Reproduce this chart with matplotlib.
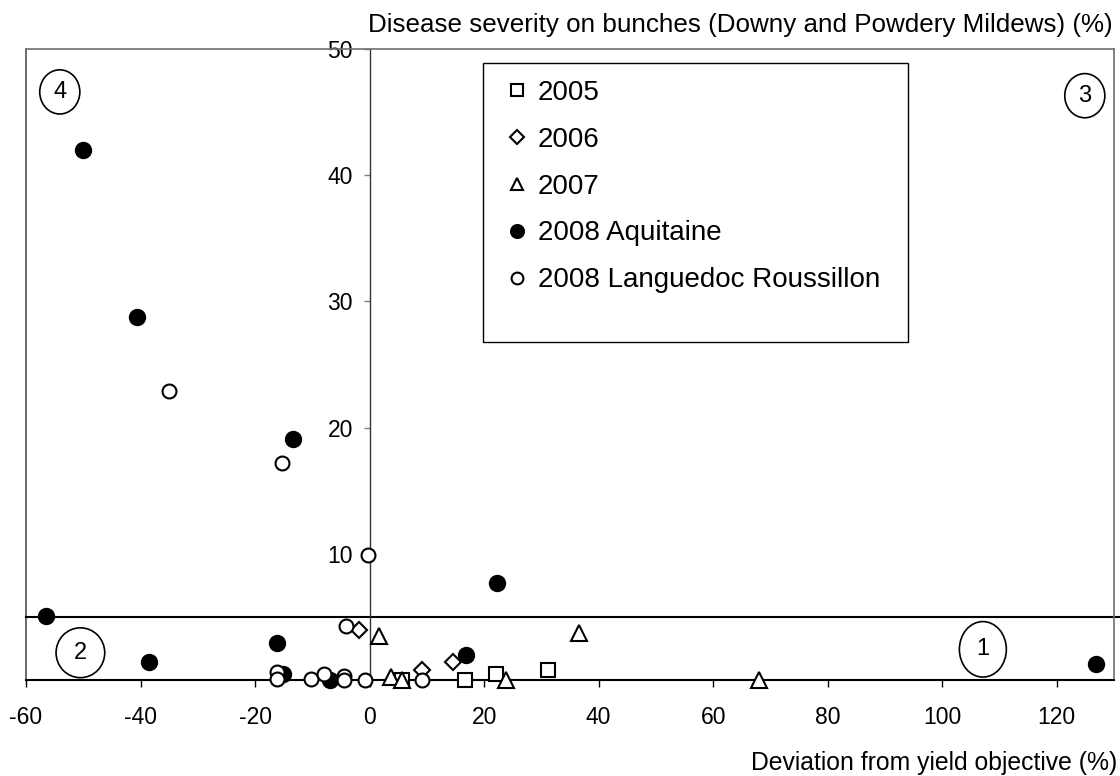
import matplotlib.pyplot as plt
from matplotlib.patches import Ellipse, Rectangle

plt.rcParams['font.family'] = ['Liberation Sans', 'DejaVu Sans']
plt.rcParams['axes.unicode_minus'] = False

# data: deviation from yield objective (%), disease severity (%)
x2005 = [5.6, 16.6, 22.0, 31.1]
y2005 = [0.0, 0.0, 0.5, 0.8]

x2006 = [-1.9, 9.2, 14.6]
y2006 = [4.0, 0.8, 1.45]

x2007 = [1.7, 3.7, 5.6, 23.8, 36.6, 68.0]
y2007 = [3.5, 0.2, 0.0, 0.0, 3.75, 0.0]

x_aq = [-56.5, -50.1, -40.6, -38.5, -16.1, -15.2, -13.4, -6.9, 16.9, 22.3, 126.8]
y_aq = [5.1, 42.0, 28.8, 1.4, 2.95, 0.47, 19.1, 0.0, 2.0, 7.7, 1.3]

x_lr = [-35.1, -15.3, -0.2, -4.2, -16.1, -16.1, -10.3, -8.0, -4.5, -4.4, -0.75, 9.2]
y_lr = [22.9, 17.2, 9.9, 4.3, 0.66, 0.08, 0.08, 0.48, 0.3, 0.0, 0.0, 0.0]

threshold = 5
zone_labels = ['1', '2', '3', '4']
zone_x = [107.1, -50.5, 124.9, -54.1]
zone_y = [2.43, 2.16, 46.3, 46.6]
zone_w = [8.2, 8.5, 7.0, 7.0]
zone_h = [4.4, 3.95, 3.5, 3.5]

fig = plt.figure(figsize=(11.2, 7.76), dpi=100)
ax = fig.add_axes([26 / 1120, 96 / 776, 1088 / 1120, 631 / 776])

ms = 10
ax.plot(x2005, y2005, 's', ms=ms, mfc='white', mec='black', mew=1.5, label='2005', clip_on=False, zorder=3)
ax.plot(x2006, y2006, 'D', ms=ms * 0.8, mfc='white', mec='black', mew=1.5, label='2006', clip_on=False, zorder=3)
ax.plot(x2007, y2007, '^', ms=ms + 1, mfc='white', mec='black', mew=1.5, label='2007', clip_on=False, zorder=3)
ax.plot(x_aq, y_aq, 'o', ms=ms + 1, mfc='black', mec='black', mew=1.5, label='2008 Aquitaine', clip_on=False, zorder=3)
ax.plot(x_lr, y_lr, 'o', ms=ms, mfc='white', mec='black', mew=1.5, label='2008 Languedoc Roussillon', clip_on=False, zorder=3)

ax.set_xlim(-60, 130)
ax.set_ylim(0, 50)

# y axis crosses at x = 0
ax.spines['left'].set_position(('data', 0))
ax.spines['left'].set_color('#333333')
ax.spines['left'].set_linewidth(1)
ax.spines['bottom'].set_color('black')
ax.spines['bottom'].set_linewidth(1.5)
for s in ['top', 'right']:
    ax.spines[s].set_color('#707070')
    ax.spines[s].set_linewidth(1.2)
ax.plot([0, 0], [0, 1], transform=ax.transAxes, color='#505050', lw=1.2, clip_on=False)

# threshold line
ax.plot([0, 1.006], [threshold, threshold], transform=ax.get_yaxis_transform(),
        color='black', lw=1.5, clip_on=False, zorder=2)

ax.set_xticks(range(-60, 121, 20))
ax.set_yticks(range(0, 51, 10))
ax.tick_params(axis='x', direction='out', length=5, width=1, color='black', pad=14, labelsize=16.5)
ax.tick_params(axis='y', direction='out', length=4, width=1, color='#808080', pad=8, labelsize=16.5)
ax.set_yticklabels(['', '10', '20', '30', '40', '50'])

for lab, zx, zy, zw, zh in zip(zone_labels, zone_x, zone_y, zone_w, zone_h):
    ax.add_patch(Ellipse((zx, zy), zw, zh, fill=False, ec='black', lw=1.2, clip_on=False))
    ax.text(zx, zy, lab, ha='center', va='center', fontsize=17)

# legend box (Excel style, taller than its entries)
ax.add_patch(Rectangle((0.42, 0.5357), 0.3907, 0.4421, transform=ax.transAxes,
                       fill=True, fc='white', ec='black', lw=1, zorder=4))
leg = ax.legend(loc='upper left', bbox_to_anchor=(0.4384, 0.9509), fontsize=20, markerscale=0.85,
                frameon=False, handlelength=1.0, handletextpad=0.25, labelspacing=0.75,
                borderpad=0, borderaxespad=0)
leg.set_zorder(5)

fig.text(368 / 1120, 1 - 25 / 776, 'Disease severity on bunches (Downy and Powdery Mildews) (%)',
         ha='left', va='center', fontsize=18.7)
fig.text(1117 / 1120, 1 - 763 / 776, 'Deviation from yield objective (%)',
         ha='right', va='center', fontsize=17.8)

fig.savefig('out.png', dpi=100)
